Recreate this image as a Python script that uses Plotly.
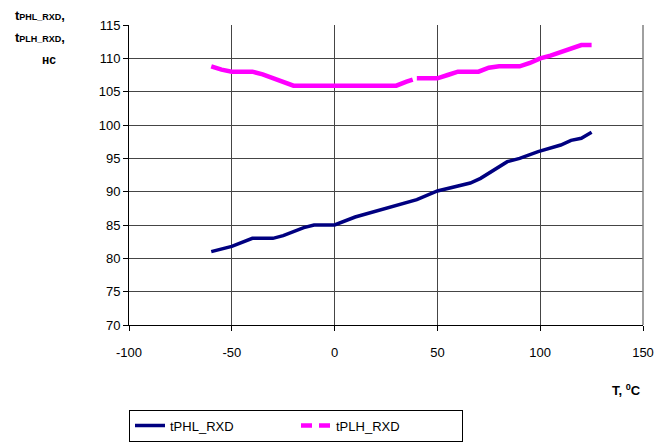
import plotly.graph_objects as go

# Temperature, degC
t_phl = [-60, -50, -40, -30, -25, -15, -10, 0, 10, 20, 30, 40, 50, 60, 66, 71, 76, 80, 84, 90, 99, 110, 115, 120, 125]
# tPHL_RXD, ns
phl = [81.0, 81.8, 83.0, 83.0, 83.4, 84.6, 85.0, 85.0, 86.2, 87.1, 88.0, 88.8, 90.1, 90.8, 91.3, 92.0, 93.0, 93.8, 94.5, 95.0, 96.0, 97.0, 97.7, 98.0, 98.9]

# Temperature, degC
t_plh = [-60, -55, -50, -40, -35, -30, -25, -20, 0, 30, 35, 38, None, 40, 50, 55, 60, 70, 75, 80, 90, 95, 100, 105, 110, 115, 120, 125]
# tPLH_RXD, ns
plh = [108.8, 108.3, 108.0, 108.0, 107.6, 107.0, 106.5, 105.9, 105.9, 105.9, 106.5, 106.8, None, 107.0, 107.0, 107.5, 108.0, 108.0, 108.6, 108.8, 108.8, 109.3, 110.0, 110.4, 110.9, 111.5, 112.0, 112.0]

x_ticks = [-100, -50, 0, 50, 100, 150]
x_tick_labels = ["-100", "-50", "0", "50", "100", "150"]
y_ticks = [70, 75, 80, 85, 90, 95, 100, 105, 110, 115]

NAVY = "#000080"
MAGENTA = "#FF00FF"
FONT = "Liberation Sans, Arial, sans-serif"

fig = go.Figure()
fig.add_trace(go.Scatter(x=t_phl, y=phl, mode="lines", name="tPHL_RXD",
                         line=dict(color=NAVY, width=3.5)))
fig.add_trace(go.Scatter(x=t_plh, y=plh, mode="lines", name="tPLH_RXD",
                         line=dict(color=MAGENTA, width=4.5), connectgaps=False,
                         showlegend=False))
fig.add_trace(go.Scatter(x=[None], y=[None], mode="lines", name="tPLH_RXD",
                         line=dict(color=MAGENTA, width=4.5, dash="11px,7px")))

fig.update_layout(
    width=669, height=443,
    margin=dict(l=121, r=34, t=10, b=125),
    paper_bgcolor="white", plot_bgcolor="white",
    font=dict(family=FONT, size=13, color="black"),
    showlegend=True,
    legend=dict(orientation="h", x=0, y=-0.282, xanchor="left", yanchor="top",
                bordercolor="black", borderwidth=1, bgcolor="white",
                font=dict(size=13), entrywidth=121, tracegroupgap=0),
    xaxis=dict(range=[-100, 150], tickvals=x_ticks, ticktext=x_tick_labels,
               ticks="outside", ticklen=5, ticklabelstandoff=10,
               tickcolor="black", showline=True, linecolor="black", linewidth=1,
               mirror=False, showgrid=True, gridcolor="#454545", gridwidth=1,
               zeroline=False, tickfont=dict(size=13)),
    yaxis=dict(range=[70, 115], tickvals=y_ticks, ticks="outside", ticklen=5,
               tickcolor="black", showline=True, linecolor="black", linewidth=1,
               showgrid=True, gridcolor="#454545", gridwidth=1, zeroline=False,
               tickfont=dict(size=13)),
    shapes=[dict(type="line", xref="paper", yref="paper", x0=1, x1=1, y0=0, y1=1,
                 line=dict(color="#808080", width=1.5))],
    annotations=[
        dict(text="<b>t<span style='font-size:9px'>PHL_RXD</span>,</b>", xref="paper", yref="paper",
             x=-0.225, y=1.03, xanchor="left", yanchor="middle", showarrow=False,
             font=dict(size=13)),
        dict(text="<b>t<span style='font-size:9px'>PLH_RXD</span>,</b>", xref="paper", yref="paper",
             x=-0.225, y=0.96, xanchor="left", yanchor="middle", showarrow=False,
             font=dict(size=13)),
        dict(text="<b>нс</b>", xref="paper", yref="paper",
             x=-0.155, y=0.885, xanchor="center", yanchor="middle", showarrow=False,
             font=dict(size=12)),
        dict(text="<b>T, <sup>0</sup>C</b>", xref="paper", yref="paper",
             x=1.0, y=-0.215, xanchor="right", yanchor="middle", showarrow=False,
             font=dict(size=13)),
    ],
)

fig.write_html("out.html")
